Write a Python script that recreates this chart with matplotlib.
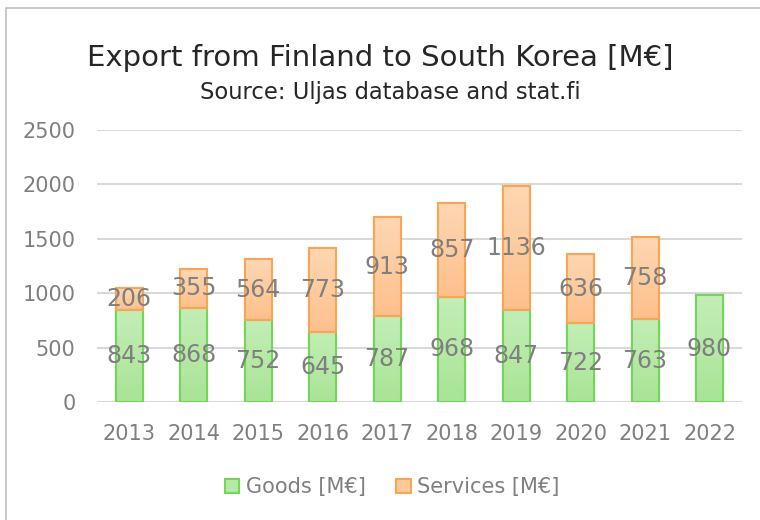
import matplotlib
matplotlib.use('Agg')
import matplotlib.pyplot as plt
import numpy as np
from matplotlib.patches import Rectangle, Patch
from matplotlib.colors import LinearSegmentedColormap

# data
years = ['2013', '2014', '2015', '2016', '2017', '2018', '2019', '2020', '2021', '2022']
goods = [843, 868, 752, 645, 787, 968, 847, 722, 763, 980]
services = [206, 355, 564, 773, 913, 857, 1136, 636, 758, 0]

grey = '#7f7f7f'
fig = plt.figure(figsize=(7.6, 5.2), dpi=100)
ax = fig.add_axes([0.1276, 0.2269, 0.8484, 0.5231])

x = range(len(years))
b1 = ax.bar(x, goods, width=0.42, color='#b6e9a8', edgecolor='#72d65a', linewidth=1.5, zorder=3)
b2 = ax.bar(x, services, bottom=goods, width=0.42, color='#fdc999', edgecolor='#f8a656', linewidth=1.5, zorder=3)
# no services bar for 2022
b2[-1].set_visible(False)

# light vertical gradient inside the bars
cm_g = LinearSegmentedColormap.from_list('g', ['#a9e496', '#c3eeb6'])
cm_s = LinearSegmentedColormap.from_list('s', ['#fdc08c', '#fed7b3'])
grad = np.linspace(0, 1, 100).reshape(-1, 1)
for bars, cmap in ((b1, cm_g), (b2, cm_s)):
    for b in bars:
        if not b.get_visible():
            continue
        x0, y0 = b.get_x(), b.get_y()
        im = ax.imshow(grad, cmap=cmap, aspect='auto', origin='lower',
                       extent=(x0, x0 + b.get_width(), y0, y0 + b.get_height()), zorder=3.1)
        im.set_clip_path(b)
        # redraw the edge on top
        ax.add_patch(Rectangle((x0, y0), b.get_width(), b.get_height(), fill=False,
                               edgecolor=b.get_edgecolor(), linewidth=1.5, zorder=3.2))

for i in x:
    ax.text(i, goods[i] / 2, str(goods[i]), ha='center', va='center', fontsize=17, color=grey, zorder=4)
    if services[i] > 0:
        ax.text(i, goods[i] + services[i] / 2, str(services[i]), ha='center', va='center', fontsize=17, color=grey, zorder=4)

ax.set_xlim(-0.5, len(years) - 0.5)
ax.set_ylim(0, 2500)
ax.set_yticks([0, 500, 1000, 1500, 2000, 2500])
ax.set_xticks(list(x))
ax.set_xticklabels(years)
ax.yaxis.grid(True, color='#d9d9d9', linewidth=1.5, zorder=0)
ax.tick_params(axis='both', length=0, labelsize=15, labelcolor=grey)
ax.tick_params(axis='y', pad=15.5)
ax.tick_params(axis='x', pad=16)
for s in ax.spines.values():
    s.set_visible(False)

fig.text(0.5, 0.888, 'Export from Finland to South Korea [M\u20ac]', ha='center', va='center', fontsize=21, color='#262626')
fig.text(0.513, 0.823, 'Source: Uljas database and stat.fi', ha='center', va='center', fontsize=16.3, color='#262626')

handles = [Patch(facecolor='#b6e9a8', edgecolor='#72d65a', linewidth=1.5, label='Goods [M\u20ac]'),
           Patch(facecolor='#fdc999', edgecolor='#f8a656', linewidth=1.5, label='Services [M\u20ac]')]
fig.legend(handles=handles, loc='center', bbox_to_anchor=(0.516, 0.063), ncol=2, frameon=False,
           fontsize=15, labelcolor=grey, handlelength=0.7, handleheight=0.7, handletextpad=0.3, columnspacing=1.47)

# chart border (only left and top are inside the picture)
fig.patches.append(Rectangle((6 / 760, -0.1), 1.2, 1.1 - 8 / 520, transform=fig.transFigure,
                             fill=False, edgecolor='#bfbfbf', linewidth=1.2))

fig.savefig('out.png', dpi=100)
